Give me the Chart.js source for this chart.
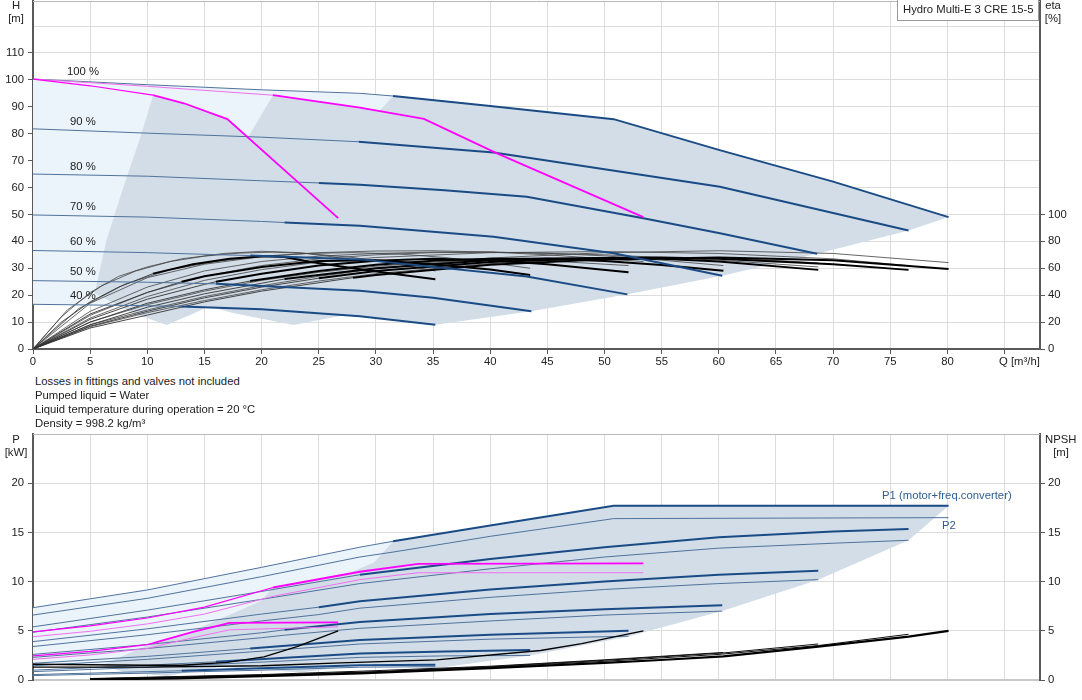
<!DOCTYPE html>
<html>
<head>
<meta charset="utf-8">
<script src="https://cdn.jsdelivr.net/npm/chart.js@4.4.1/dist/chart.umd.min.js"></script>
<style>
  body { margin: 0; background: #fff; width: 1082px; height: 700px; position: relative; overflow: hidden;
         font-family: Arial, "Liberation Sans", sans-serif; font-size: 11.3px; color: #222; }
  canvas { position: absolute; left: 0; }
  .t { position: absolute; white-space: nowrap; line-height: 14px; }
  .c { text-align: center; width: 30px; }
  .blue { color: #2f5f92; }
</style>
</head>
<body>
<canvas id="headChart" width="1082" height="372" style="top:0"></canvas>
<canvas id="powerChart" width="1082" height="280" style="top:420px"></canvas>

<div class="t c" style="left:1px;top:-2px">H</div>
<div class="t c" style="left:1px;top:11px">[m]</div>
<div class="t c" style="left:1038px;top:-2px">eta</div>
<div class="t c" style="left:1038px;top:11px">[%]</div>
<div class="t" style="left:897px;top:-1px;width:135px;height:20px;line-height:19px;border:1px solid #9a9a9a;background:#fff;padding-left:5px">Hydro Multi-E 3 CRE 15-5</div>
<div class="t" style="left:999px;top:354px">Q [m³/h]</div>

<div class="t" style="left:67px;top:64px">100 %</div>
<div class="t" style="left:70px;top:114px">90 %</div>
<div class="t" style="left:70px;top:159px">80 %</div>
<div class="t" style="left:70px;top:199px">70 %</div>
<div class="t" style="left:70px;top:234px">60 %</div>
<div class="t" style="left:70px;top:264px">50 %</div>
<div class="t" style="left:70px;top:288px">40 %</div>

<div class="t" style="left:35px;top:374px">Losses in fittings and valves not included</div>
<div class="t" style="left:35px;top:388px">Pumped liquid = Water</div>
<div class="t" style="left:35px;top:402px">Liquid temperature during operation = 20 °C</div>
<div class="t" style="left:35px;top:416px">Density = 998.2 kg/m³</div>

<div class="t c" style="left:1px;top:432px">P</div>
<div class="t c" style="left:1px;top:445px">[kW]</div>
<div class="t" style="left:1045px;top:432px">NPSH</div>
<div class="t c" style="left:1046px;top:445px">[m]</div>
<div class="t blue" style="left:882px;top:488px">P1 (motor+freq.converter)</div>
<div class="t blue" style="left:942px;top:518px">P2</div>

<script>
// ---------- Kopfhöhe H [m] über Q [m³/h], 3 Pumpen, Drehzahl 100 % ... 40 %
const h100Q = [0, 10, 20, 28.6, 31.5, 40, 50.8, 60, 70, 80.1];
const h100H = [100.3, 98.2, 96.3, 95, 94, 90.3, 85.4, 74, 62.2, 49];
const h90Q = [0, 10, 20, 28.5, 40.3, 50, 60.1, 70, 76.6];
const h90H = [81.8, 80.2, 78.7, 77, 73, 66.8, 60.3, 50.5, 44];
const h80Q = [0, 10, 20, 25, 28.6, 36, 43.2, 53.4, 60.1, 68.6];
const h80H = [65, 64.2, 62.5, 61.7, 61, 59, 56.6, 48.6, 43, 35.4];
const h70Q = [0, 10, 20, 22, 28.6, 40.3, 50.8, 60.3];
const h70H = [49.8, 49, 47.4, 47, 45.8, 41.7, 35.6, 27.2];
const h60Q = [0, 10, 19, 28.6, 43.2, 52];
const h60H = [36.6, 35.8, 34.7, 33.3, 26.9, 20.3];
const h50Q = [0, 10, 16, 28.6, 35, 43.6];
const h50H = [25.4, 24.8, 24.2, 21.6, 19, 14];
const h40Q = [0, 10, 13, 20, 28.6, 35.2];
const h40H = [16.6, 16.1, 15.8, 14.8, 12.2, 9];

// Grenzkurven 1 und 2 Pumpen (magenta)
const lim1Q = [0, 5, 10.5, 13.2, 17, 26.7];
const lim1H = [100.3, 97.8, 94.3, 91.3, 85.4, 48.6];
const lim2Q = [0, 10, 21, 28.6, 34.2, 40.6, 53.4];
const lim2H = [100.3, 97.6, 94.3, 89.7, 85.5, 72.7, 49];

// Betriebsbereiche
const lightQ = [0, 10, 20, 28.6, 31.5, 25, 14, 12, 10, 0];
const lightH = [100.3, 98.2, 96.3, 95, 94, 50, 15, 16, 16.1, 16.6];
const zone1Q = [10.5, 9.5, 7.9, 6.4, 5.4, 8.8, 11.7, 14.5, 17.3, 20.1, 22.9, 25.5, 26.7, 17, 13.2, 10.5];
const zone1H = [94.3, 80, 60, 40, 20.7, 13.3, 8.9, 14, 20.4, 27, 35.5, 44, 48.6, 85.4, 91.3, 94.3];
const zone2Q = [21, 19, 15.8, 12.8, 10.8, 17.6, 22.8, 29, 34.6, 40.2, 45.8, 51, 53.4, 40.6, 34.2, 28.6, 21];
const zone2H = [94.3, 80, 60, 40, 20.7, 13.3, 8.9, 14, 20.4, 27, 35.5, 44, 49, 72.7, 85.5, 89.7, 94.3];
const zone3Q = [31.5, 28.5, 23.7, 19.2, 16.2, 26.4, 35.2, 43.6, 52, 60.3, 68.6, 76.6, 80.1, 70, 60, 50.8, 40, 31.5];
const zone3H = [94, 80, 60, 40, 20.7, 13.3, 9, 14, 20.3, 27.2, 35.4, 44, 49, 62.2, 74, 85.4, 90.3, 94];

// Wirkungsgrad eta [%] (dick: Gesamt, dünn: weitere Kurven)
const e40Q = [0, 2.5, 5, 7.5, 10.5, 14, 17.2, 20.2, 22, 24.2, 28, 31.5, 35.2];
const e40 = [0, 20, 35, 46, 56, 63, 67, 69, 68.4, 64.8, 60, 56, 51.8];
const e50Q = [0, 5, 10, 13, 15, 20, 25, 30, 35, 40, 43.5];
const e50 = [0, 26, 42, 50, 54, 61, 65.4, 66, 63, 59, 55];
const e60Q = [0, 5, 10, 15, 16, 20, 25, 30, 35, 40, 45, 52.1];
const e60 = [0, 22, 37, 48, 50, 56, 62, 65.6, 67, 66, 63, 57];
const e70Q = [0, 5, 10, 15, 19, 25, 30, 35, 40, 45, 50, 55, 60.4];
const e70 = [0, 20, 34, 44, 50.5, 58, 62.6, 65.6, 67, 67, 65.4, 62.4, 58.2];
const e80Q = [0, 5, 10, 15, 22, 25, 30, 40, 45, 50, 55, 60, 68.7];
const e80 = [0, 18, 31, 41, 52, 55, 60, 66, 67.2, 67.6, 67, 65, 58.8];
const e90Q = [0, 5, 10, 15, 20, 25, 30, 40, 50, 55, 60, 70, 76.6];
const e90 = [0, 17, 28, 38, 46, 52.6, 58, 64.6, 67.6, 68, 67, 63, 58.8];
const e100Q = [0, 5, 10, 15, 20, 28, 30, 40, 50, 60, 70, 80.1];
const e100 = [0, 15.6, 25.2, 35, 43, 53, 55, 62.6, 66.6, 68, 66, 59.4];
const t1Q = [0, 2.5, 5, 7.5, 10, 13, 16.7, 20, 23.3, 26.7];
const t1 = [0, 24, 42, 54, 61, 67, 71, 72.6, 71.6, 68];
const t2Q = [0, 5, 10, 15, 20, 25, 30, 35, 40, 45, 53.4];
const t2 = [0, 34, 53, 63, 68.6, 71.6, 72.8, 73, 72, 70, 65];
const t3Q = [0, 5, 10, 15, 20, 25, 30, 35, 40, 50, 60, 68.7];
const t3 = [0, 28, 46, 58, 65, 69, 71, 72, 72, 70, 66, 61];
const t4Q = [0, 5, 10, 15, 20, 25, 30, 40, 50, 60, 70, 76.6];
const t4 = [0, 23, 39, 51, 59, 64.6, 68, 71.6, 72.4, 71, 67, 62];
const t5Q = [0, 5, 10, 15, 20, 25, 30, 40, 50, 60, 70, 80.1];
const t5 = [0, 18, 29, 39, 47, 54, 59.6, 67.6, 71.6, 73, 71, 64.2];
const t6Q = [0, 5, 10, 15, 20, 25, 30, 35, 40, 45, 50, 55, 60.4];
const t6 = [0, 25, 42, 54, 62, 67, 70, 71.6, 72, 71.2, 69.2, 66, 62];
const t7Q = [0, 4, 8, 12, 16, 20, 24, 28, 32, 36, 40, 43.5];
const t7 = [0, 30, 48, 59, 65, 69, 71, 71.6, 70.6, 68, 64, 60];
const t8Q = [0, 3, 6, 9, 12, 15, 18, 21, 24, 28, 32, 35.2];
const t8 = [0, 29, 47, 58, 65, 69, 71.2, 72, 71, 68, 63, 58];
const t9Q = [0, 5, 10, 15, 20, 25, 30, 35, 40, 45, 52.1];
const t9 = [0, 20, 33, 43, 51, 57, 61.5, 64.5, 66, 65.5, 62];
const t10Q = [0, 5, 10, 15, 20, 25, 30, 40, 50, 60, 68.7];
const t10 = [0, 16.5, 27, 36, 44, 50.5, 56, 63.5, 67.5, 68, 64];

// ---------- Leistung P [kW] (P1 Motor+FU, P2 Welle)
const p100Q = [0, 10, 20, 28.6, 31.5, 40, 50.8, 80.1];
const p1_100 = [7.35, 9.15, 11.45, 13.5, 14.1, 15.7, 17.7, 17.7];
const p2_100 = [6.6, 8.3, 10.5, 12.5, 13.0, 14.6, 16.4, 16.5];
const p90Q = [0, 10, 20, 28.6, 40, 50, 60, 70, 76.6];
const p1_90 = [5.4, 7.1, 9.0, 10.7, 12.3, 13.5, 14.5, 15.1, 15.35];
const p2_90 = [4.85, 6.4, 8.2, 9.8, 11.3, 12.5, 13.4, 13.9, 14.2];
const p80Q = [0, 10, 20, 25, 28.6, 40, 50, 60, 68.7];
const p1_80 = [3.9, 5.2, 6.7, 7.4, 8.0, 9.2, 10.0, 10.7, 11.1];
const p2_80 = [3.4, 4.6, 6.0, 6.65, 7.3, 8.4, 9.2, 9.8, 10.2];
const p70Q = [0, 10, 20, 22, 28.6, 40, 50, 60.3];
const p1_70 = [2.6, 3.6, 4.8, 5.1, 5.9, 6.7, 7.2, 7.6];
const p2_70 = [2.3, 3.2, 4.3, 4.55, 5.25, 6.0, 6.6, 7.0];
const p60Q = [0, 10, 19, 28.6, 40, 52.1];
const p1_60 = [1.7, 2.4, 3.2, 4.07, 4.6, 5.0];
const p2_60 = [1.45, 2.1, 2.85, 3.66, 4.15, 4.45];
const p50Q = [0, 10, 16, 28.6, 36, 43.5];
const p1_50 = [1.0, 1.5, 1.85, 2.7, 2.9, 3.05];
const p2_50 = [0.85, 1.3, 1.6, 2.3, 2.45, 2.5];
const p40Q = [0, 10, 13, 20, 28.6, 35.2];
const p1_40 = [0.55, 0.85, 0.95, 1.2, 1.5, 1.55];
const p2_40 = [0.45, 0.7, 0.8, 1.0, 1.3, 1.35];

const pm1Q = [0, 5, 10, 10.5, 14, 17.2, 26.7];
const pm1_p1 = [2.45, 2.9, 3.6, 3.75, 4.9, 5.8, 5.85];
const pm1_p2 = [2.1, 2.55, 3.2, 3.35, 4.3, 5.1, 5.4];
const pm2Q = [0, 5, 10, 15, 21, 28.6, 33.7, 53.4];
const pm2_p1 = [4.9, 5.5, 6.3, 7.4, 9.4, 11.0, 11.8, 11.85];
const pm2_p2 = [4.4, 4.95, 5.7, 6.7, 8.5, 10.2, 10.9, 10.9];

// NPSH [m]
const n1Q = [0, 10, 13, 17, 20.2, 23.1, 26.7];
const n1 = [1.6, 1.5, 1.5, 1.8, 2.35, 3.4, 5.0];
const n2Q = [0, 10, 20, 26.9, 35.3, 44.4, 48, 53.4];
const n2 = [1.3, 1.3, 1.45, 1.75, 2.05, 3.0, 3.7, 5.0];
const n100Q = [5, 12.6, 20, 28.6, 40, 50, 54.9, 60.4, 68.7, 76.6, 80.1];
const n100 = [0.05, 0.17, 0.4, 0.68, 1.2, 1.75, 2.03, 2.4, 3.4, 4.4, 5.0];
const n90Q = [5, 20, 30, 40, 50, 60, 68.7, 76.6];
const n90 = [0.1, 0.45, 0.8, 1.3, 1.9, 2.6, 3.5, 4.65];
const n80Q = [5, 20, 30, 40, 50, 60.4, 68.7];
const n80 = [0.12, 0.5, 0.85, 1.35, 2.0, 2.75, 3.66];
const n70Q = [5, 20, 30, 40, 50, 60.4];
const n70 = [0.15, 0.55, 0.95, 1.4, 2.05, 2.8];

// Bereiche unten
const pLightQ = [0, 10, 20, 28.6, 31.5, 30, 25, 10, 0];
const pLight = [7.35, 9.15, 11.45, 13.5, 14.1, 11, 8, 1.6, 1.6];
const pZone1Q = [10.5, 14, 17.2, 26.7, 26.7, 22.9, 17.3, 11.7, 8, 6, 10.5];
const pZone1 = [3.75, 4.9, 5.8, 5.85, 5.4, 3.4, 1.5, 0.4, 0.8, 1.5, 3.75];
const pZone2Q = [21, 28.6, 33.7, 53.4, 53.4, 51, 45.8, 40.2, 34.6, 29, 23.4, 8.2, 14, 19.9, 21];
const pZone2 = [9.4, 11.0, 11.8, 11.85, 10.9, 9.5, 6.8, 4.7, 2.9, 1.6, 0.75, 2.0, 5.0, 8.0, 9.4];
const pZone3Q = [31.5, 40, 50.8, 80.1, 76.6, 68.7, 60.3, 52, 43.5, 35.2, 12.3, 21, 29.9, 31.5];
const pZone3 = [14.1, 15.7, 17.7, 17.7, 14.2, 10.2, 7.0, 4.4, 2.5, 1.2, 3.0, 7.5, 12, 14.1];

// ---------- Darstellung
const BLUE = '#1a4b85', BLUE_THIN = '#50739c', MAG = '#ff00ff', MAG_THIN = '#f070f0';
const LIGHT = '#ebf3fb', AREA = '#d2dde8', GRID = '#dcdcdc', AXIS = '#5a5a5a';

Chart.defaults.font.family = 'Arial, "Liberation Sans", sans-serif';
Chart.defaults.font.size = 11.3;
Chart.defaults.color = '#222';

const pts = (q, v) => q.map((x, i) => ({ x: x, y: v[i] }));

function curve(q, v, color, width, extra) {
  return Object.assign({ data: pts(q, v), borderColor: color, borderWidth: width,
    pointRadius: 0, showLine: true, fill: false, order: 0 }, extra || {});
}
// dünn im Hellbereich, dick ab Q = from
function split(q, v, color, thinColor, from, thin, thick, extra) {
  return curve(q, v, color, thick, Object.assign({
    segment: {
      borderWidth: c => c.p0.parsed.x >= from - 0.01 ? thick : thin,
      borderColor: c => c.p0.parsed.x >= from - 0.01 ? color : thinColor
    }
  }, extra || {}));
}
function zone(q, v, color, order) {
  return { data: pts(q, v), showLine: true, borderWidth: 0, pointRadius: 0,
    backgroundColor: color, fill: 'shape', order: order };
}
const eta = { yAxisID: 'eta' };

const frame = {
  id: 'frame',
  afterDraw(chart) {
    const a = chart.chartArea, c = chart.ctx;
    c.save();
    c.strokeStyle = '#b8b8b8';
    c.lineWidth = 1;
    c.beginPath();
    c.moveTo(a.left, a.top + 0.5);
    c.lineTo(a.right, a.top + 0.5);
    c.stroke();
    c.restore();
  }
};

function xAxis(showLabels, borderColor) {
  return {
    type: 'linear', min: 0, max: 88.1,
    afterFit: s => { s.height = showLabels ? 23 : 20; s.paddingLeft = 0; s.paddingRight = 0; },
    border: { color: borderColor, width: 2 },
    grid: { color: GRID, lineWidth: 1, tickLength: showLabels ? 5 : 0, tickColor: AXIS },
    ticks: { stepSize: 5, includeBounds: false, padding: 1, maxRotation: 0, autoSkip: false,
      display: showLabels, callback: v => (v <= 80 ? v : '') }
  };
}
function yAxis(max, step, lastLabel, side, width) {
  const right = side === 'right';
  return {
    type: 'linear', position: side, min: 0, max: max,
    afterFit: s => { s.width = width; s.paddingTop = 0; s.paddingBottom = 0; },
    border: { color: AXIS, width: 2 },
    grid: { color: GRID, drawOnChartArea: !right, tickLength: 5,
      tickColor: c => (c.tick && c.tick.value > lastLabel ? 'rgba(0,0,0,0)' : AXIS) },
    ticks: { stepSize: step, includeBounds: false, padding: right ? 3 : 4, autoSkip: false,
      callback: v => (v <= lastLabel ? v : '') }
  };
}

const common = {
  responsive: false, animation: false, events: [],
  plugins: { legend: { display: false }, tooltip: { enabled: false } }
};

// ---------- oberes Diagramm
const headSets = [
  split(lim1Q, lim1H, MAG, MAG, 10.5, 1.2, 1.8),
  split(lim2Q, lim2H, MAG, MAG_THIN, 21, 1, 1.8),
  split(h100Q, h100H, BLUE, BLUE_THIN, 31.5, 1, 2),
  split(h90Q, h90H, BLUE, BLUE_THIN, 28.5, 1, 2),
  split(h80Q, h80H, BLUE, BLUE_THIN, 25, 1, 2),
  split(h70Q, h70H, BLUE, BLUE_THIN, 22, 1, 2),
  split(h60Q, h60H, BLUE, BLUE_THIN, 19, 1, 2),
  split(h50Q, h50H, BLUE, BLUE_THIN, 16, 1, 2),
  split(h40Q, h40H, BLUE, BLUE_THIN, 13, 1, 2),
  split(e40Q, e40, '#000', '#333', 10.5, 0.9, 2, eta),
  split(e50Q, e50, '#000', '#333', 13, 0.9, 2, eta),
  split(e60Q, e60, '#000', '#333', 16, 0.9, 2, eta),
  split(e70Q, e70, '#000', '#333', 19, 0.9, 2, eta),
  split(e80Q, e80, '#000', '#333', 22, 0.9, 2, eta),
  split(e90Q, e90, '#000', '#333', 25, 0.9, 2, eta),
  split(e100Q, e100, '#000', '#333', 28, 0.9, 2, eta),
  curve(t1Q, t1, '#444', 0.8, eta),
  curve(t2Q, t2, '#444', 0.8, eta),
  curve(t3Q, t3, '#444', 0.8, eta),
  curve(t4Q, t4, '#444', 0.8, eta),
  curve(t5Q, t5, '#555', 0.9, eta),
  curve(t6Q, t6, '#444', 0.8, eta),
  curve(t7Q, t7, '#444', 0.8, eta),
  curve(t8Q, t8, '#444', 0.8, eta),
  curve(t9Q, t9, '#444', 0.8, eta),
  curve(t10Q, t10, '#444', 0.8, eta),
  zone(zone1Q, zone1H, AREA, 11),
  zone(zone2Q, zone2H, AREA, 11),
  zone(zone3Q, zone3H, AREA, 11),
  zone(lightQ, lightH, LIGHT, 12)
];

new Chart(document.getElementById('headChart'), {
  type: 'scatter',
  data: { datasets: headSets },
  options: Object.assign({
    layout: { padding: { top: 1, left: 0, right: 0, bottom: 0 } },
    scales: {
      x: xAxis(true, AXIS),
      y: yAxis(129.3, 10, 110, 'left', 33),
      eta: yAxis(258.6, 20, 100, 'right', 42)
    }
  }, common),
  plugins: [frame]
});

// ---------- unteres Diagramm
const powerSets = [
  split(pm1Q, pm1_p1, MAG, MAG, 10.5, 1.2, 1.8),
  curve(pm1Q, pm1_p2, MAG_THIN, 1),
  split(pm2Q, pm2_p1, MAG, MAG, 21, 1.2, 1.8),
  curve(pm2Q, pm2_p2, MAG_THIN, 1),
  curve(n1Q, n1, '#000', 1.3),
  curve(n2Q, n2, '#000', 1.3),
  curve(n100Q, n100, '#000', 2.2),
  curve(n90Q, n90, '#111', 1),
  curve(n80Q, n80, '#111', 1),
  curve(n70Q, n70, '#111', 1),
  split(p100Q, p1_100, BLUE, BLUE_THIN, 31.5, 1, 2),
  curve(p100Q, p2_100, BLUE_THIN, 1),
  split(p90Q, p1_90, BLUE, BLUE_THIN, 28.6, 1, 2),
  curve(p90Q, p2_90, BLUE_THIN, 1),
  split(p80Q, p1_80, BLUE, BLUE_THIN, 25, 1, 2),
  curve(p80Q, p2_80, BLUE_THIN, 1),
  split(p70Q, p1_70, BLUE, BLUE_THIN, 22, 1, 2),
  curve(p70Q, p2_70, BLUE_THIN, 1),
  split(p60Q, p1_60, BLUE, BLUE_THIN, 19, 1, 2),
  curve(p60Q, p2_60, BLUE_THIN, 1),
  split(p50Q, p1_50, BLUE, BLUE_THIN, 16, 1, 2),
  curve(p50Q, p2_50, BLUE_THIN, 1),
  split(p40Q, p1_40, BLUE, BLUE_THIN, 13, 1, 2),
  curve(p40Q, p2_40, BLUE_THIN, 1),
  zone(pZone1Q, pZone1, AREA, 11),
  zone(pZone2Q, pZone2, AREA, 11),
  zone(pZone3Q, pZone3, AREA, 11),
  zone(pLightQ, pLight, LIGHT, 12)
];

new Chart(document.getElementById('powerChart'), {
  type: 'scatter',
  data: { datasets: powerSets },
  options: Object.assign({
    layout: { padding: { top: 14, left: 0, right: 0, bottom: 0 } },
    scales: {
      x: xAxis(false, '#c8c8c8'),
      y: yAxis(25, 5, 20, 'left', 33),
      npsh: yAxis(25, 5, 20, 'right', 42)
    }
  }, common),
  plugins: [frame]
});
</script>
</body>
</html>
